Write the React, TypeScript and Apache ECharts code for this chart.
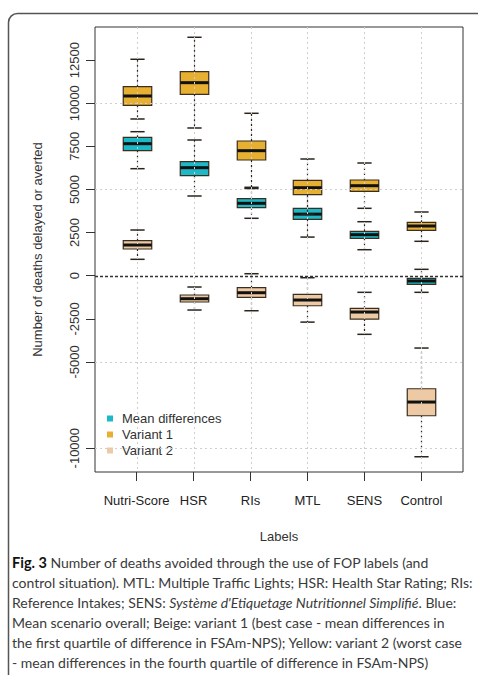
import React, { useEffect, useRef } from "react";
import * as echarts from "echarts";

const categories = ["Nutri-Score", "HSR", "RIs", "MTL", "SENS", "Control"];
const seriesNames = ["Mean differences", "Variant 1", "Variant 2"];
const seriesColors = ["#1cb9c8", "#e8b030", "#eecaa4"];

// [low whisker, Q1, median, Q3, high whisker] per category
const meanDifferences = [
  [6205, 7249, 7654, 8026, 8350],
  [4622, 5799, 6263, 6611, 7869],
  [3329, 3943, 4198, 4465, 5050],
  [2240, 3270, 3570, 3908, 4900],
  [1508, 2169, 2378, 2575, 3131],
  [-963, -499, -307, -151, 371],
];
const variant1 = [
  [9087, 9881, 10420, 10960, 12549],
  [8565, 10519, 11192, 11830, 13824],
  [5126, 6709, 7249, 7811, 9417],
  [3570, 4697, 5103, 5532, 6767],
  [3908, 4894, 5219, 5549, 6535],
  [1995, 2633, 2882, 3097, 3694],
];
const variant2 = [
  [951, 1548, 1780, 2030, 2650],
  [-1989, -1525, -1334, -1119, -655],
  [-2030, -1253, -986, -696, 116],
  [-2690, -1740, -1409, -1079, -116],
  [-3398, -2511, -2105, -1890, -963],
  [-10496, -8118, -7324, -6553, -4193],
];

const yTickValues = [12500, 10000, 7500, 5000, 2500, 0, -2500, -5000, -10000];
const yGridValues = [10000, 5000, -5000, -10000];
const zeroLineValue = 0;
const xTickValues = [1, 2, 3, 4, 5, 6];

const captionLines = [
  [{ t: "Fig. 3", s: "b" }, { t: " Number of deaths avoided through the use of FOP labels (and", s: "n" }],
  [{ t: "control situation). MTL: Multiple Traffic Lights; HSR: Health Star Rating; RIs:", s: "n" }],
  [
    { t: "Reference Intakes; SENS: ", s: "n" },
    { t: "Système d'Etiquetage Nutritionnel Simplifié", s: "i" },
    { t: ". Blue:", s: "n" },
  ],
  [{ t: "Mean scenario overall; Beige: variant 1 (best case - mean differences in", s: "n" }],
  [{ t: "the first quartile of difference in FSAm-NPS); Yellow: variant 2 (worst case", s: "n" }],
  [{ t: "- mean differences in the fourth quartile of difference in FSAm-NPS)", s: "n" }],
];

const FONT = "'Liberation Sans', Arial, sans-serif";
const CAP_FONT = "Lato, 'Open Sans', sans-serif";

function renderBox(params: any, api: any) {
  const x = api.value(0);
  const low = api.coord([x, api.value(1)]);
  const q1 = api.coord([x, api.value(2)]);
  const med = api.coord([x, api.value(3)]);
  const q3 = api.coord([x, api.value(4)]);
  const high = api.coord([x, api.value(5)]);
  const cx = Math.round(low[0]) + 0.5;
  const half = api.size([0.25, 0])[0];
  const capHalf = api.size([0.125, 0])[0];
  const fill = api.visual("color");
  const ink = "#2a241c";
  return {
    type: "group",
    children: [
      { type: "line", shape: { x1: cx, y1: q3[1], x2: cx, y2: high[1] }, style: { stroke: ink, lineWidth: 1.2, lineDash: [2, 3] } },
      { type: "line", shape: { x1: cx, y1: q1[1], x2: cx, y2: low[1] }, style: { stroke: ink, lineWidth: 1.2, lineDash: [2, 3] } },
      { type: "line", shape: { x1: cx - capHalf, y1: high[1], x2: cx + capHalf, y2: high[1] }, style: { stroke: ink, lineWidth: 1.5 } },
      { type: "line", shape: { x1: cx - capHalf, y1: low[1], x2: cx + capHalf, y2: low[1] }, style: { stroke: ink, lineWidth: 1.5 } },
      { type: "rect", shape: { x: cx - half, y: q3[1], width: 2 * half, height: q1[1] - q3[1] }, style: { fill, stroke: "#3b2e1e", lineWidth: 1.2 } },
      { type: "line", shape: { x1: cx - half, y1: med[1], x2: cx + half, y2: med[1] }, style: { stroke: "#111", lineWidth: 3 } },
    ],
  };
}

// kind 0: light dotted grid line, kind 1: dark dashed reference line at zero
function renderHLine(params: any, api: any) {
  const cs = params.coordSys;
  const y = Math.round(api.coord([1, api.value(0)])[1]) + 0.5;
  const dark = api.value(1) === 1;
  return {
    type: "line",
    shape: { x1: cs.x, y1: y, x2: cs.x + cs.width, y2: y },
    style: dark
      ? { stroke: "#333", lineWidth: 1.6, lineDash: [3, 2] }
      : { stroke: "#cfcfcf", lineWidth: 1, lineDash: [2, 3] },
  };
}
function renderVLine(params: any, api: any) {
  const cs = params.coordSys;
  const x = Math.round(api.coord([api.value(0), 0])[0]) + 0.5;
  return {
    type: "line",
    shape: { x1: x, y1: cs.y, x2: x, y2: cs.y + cs.height },
    style: { stroke: "#cfcfcf", lineWidth: 1, lineDash: [2, 3] },
  };
}

export default function App() {
  const ref = useRef<HTMLDivElement>(null);
  useEffect(() => {
    if (!ref.current) return;
    const chart = echarts.init(ref.current, null, { renderer: "svg" });
    const groups = [meanDifferences, variant1, variant2];
    const series: any[] = groups.map((g, si) => ({
      type: "custom",
      name: seriesNames[si],
      renderItem: renderBox,
      itemStyle: { color: seriesColors[si] },
      encode: { x: 0, y: [1, 2, 3, 4, 5] },
      data: g.map((d, i) => [i + 1, ...d]),
      z: 2,
    }));
    series.push({
      type: "custom",
      name: "vgrid",
      silent: true,
      renderItem: renderVLine,
      encode: { x: 0 },
      data: xTickValues.map((v) => [v]),
      z: 4,
    });
    series.push({
      type: "custom",
      name: "hgrid",
      silent: true,
      renderItem: renderHLine,
      encode: { y: 0 },
      data: [...yGridValues.map((v) => [v, 0]), [zeroLineValue, 1]],
      z: 5,
    });
    chart.setOption({
      animation: false,
      textStyle: { fontFamily: FONT },
      grid: {
        left: 95,
        top: 27,
        right: 15,
        bottom: 203,
        show: true,
        borderColor: "#333",
        borderWidth: 1,
        backgroundColor: "transparent",
      },
      legend: {
        data: seriesNames,
        orient: "vertical",
        left: 107,
        top: 412,
        padding: 0,
        itemWidth: 6,
        itemHeight: 6,
        itemGap: 3,
        icon: "rect",
        textStyle: { fontSize: 13, color: "#333", fontFamily: FONT, padding: [0, 0, 0, 4] },
        selectedMode: false,
      },
      xAxis: {
        type: "value",
        min: 0.27,
        max: 6.73,
        name: "Labels",
        nameLocation: "middle",
        nameGap: 58,
        nameTextStyle: { fontSize: 13, color: "#333", fontFamily: FONT },
        axisLine: { show: false, onZero: false },
        splitLine: { show: false },
        axisTick: { show: true, customValues: xTickValues, length: 9, lineStyle: { color: "#333" } },
        axisLabel: {
          customValues: xTickValues,
          formatter: (v: number) => categories[Math.round(v) - 1] ?? "",
          fontSize: 13,
          color: "#222",
          margin: 22,
          fontFamily: FONT,
        },
      },
      yAxis: {
        type: "value",
        min: -11380,
        max: 14420,
        name: "Number of deaths delayed or averted",
        nameLocation: "middle",
        nameRotate: 90,
        nameGap: 51,
        nameTextStyle: { fontSize: 13, color: "#333", fontFamily: FONT },
        axisLine: { show: false, onZero: false },
        splitLine: { show: false },
        axisTick: { show: true, customValues: yTickValues, length: 9, lineStyle: { color: "#333" } },
        axisLabel: {
          customValues: yTickValues,
          formatter: (v: number) => String(v),
          rotate: 90,
          fontSize: 13,
          color: "#333",
          margin: 14,
          fontFamily: FONT,
        },
      },
      graphic: [
        {
          type: "rect",
          shape: { x: 8.5, y: 13.5, width: 520, height: 720, r: 9 },
          style: { fill: "none", stroke: "#555", lineWidth: 1.5 },
          silent: true,
        },
        ...captionLines.map((line, li) => ({
          type: "text",
          left: 12,
          top: 555 + li * 20,
          silent: true,
          style: {
            text: line.map((p) => `{${p.s}|${p.t.replace(/[{}|]/g, "")}}`).join(""),
            rich: {
              n: { fontFamily: CAP_FONT, fontSize: 14, fill: "#3a3a3a" },
              b: { fontFamily: CAP_FONT, fontSize: 14.5, fontWeight: "bold", fill: "#111" },
              i: { fontFamily: CAP_FONT, fontSize: 14, fontStyle: "italic", fill: "#3a3a3a" },
            },
          },
        })),
      ],
      series,
    });
    return () => chart.dispose();
  }, []);
  return (
    <div
      ref={ref}
      style={{ position: "fixed", left: 0, top: 0, width: 478, height: 675, background: "#fff" }}
    />
  );
}
